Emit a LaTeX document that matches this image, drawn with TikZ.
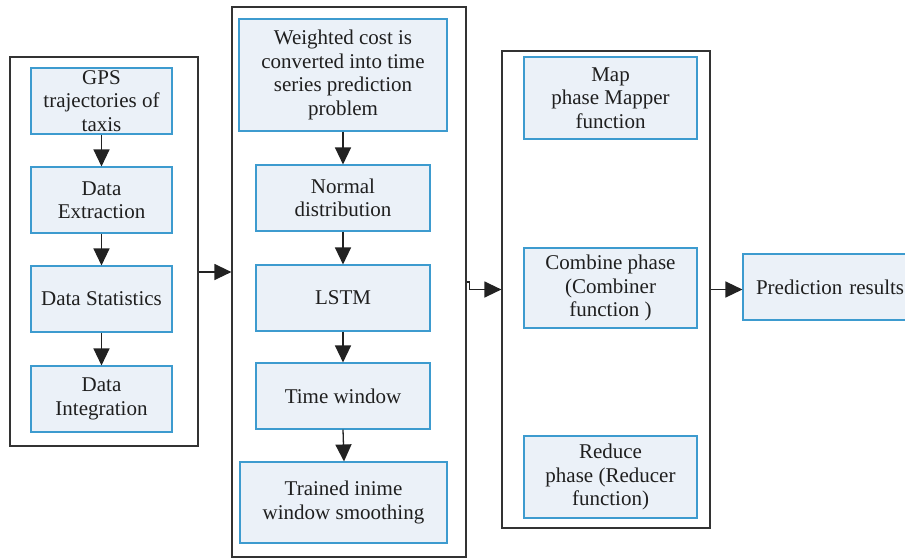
\documentclass[tikz,border=0pt]{standalone}
\usepackage{fontspec}
\setmainfont{Liberation Serif}
\usetikzlibrary{arrows.meta}
\definecolor{boxblue}{HTML}{3D9BCF}
\definecolor{boxfill}{HTML}{EBF1F8}
\definecolor{outline}{HTML}{333333}
\definecolor{arrowc}{HTML}{222222}
\tikzset{
  blk/.style={draw=boxblue, fill=boxfill, line width=1.1pt, align=center, inner sep=0pt,
    font=\fontsize{21}{23.5}\selectfont, text=black!88},
  outerbox/.style={draw=outline, line width=1.2pt, inner sep=0pt},
  conn/.style={draw=arrowc, line width=1.3pt, -{Triangle[length=17pt,width=16pt]}},
}
\begin{document}
\begin{tikzpicture}[x=1pt,y=-1pt]
\useasboundingbox (0,0) rectangle (905,558);
\clip (0,0) rectangle (905,558);
% outer boxes
\node[outerbox, minimum width=188pt, minimum height=389pt] (outer1) at (104,251.5) {};
\node[outerbox, minimum width=234pt, minimum height=550pt] (outer2) at (349,282) {};
\node[outerbox, minimum width=208pt, minimum height=477pt] (outer3) at (606,289.5) {};
% column 1
\node[blk, minimum width=141pt, minimum height=66pt] (gps) at (101.5,101) {GPS\\trajectories of\\taxis};
\node[blk, minimum width=141pt, minimum height=66pt] (ext) at (101.5,200) {Data\\Extraction};
\node[blk, minimum width=141pt, minimum height=66pt] (stat) at (101.5,299) {Data Statistics};
\node[blk, minimum width=141pt, minimum height=66pt] (integ) at (101.5,399) {Data\\Integration};
% column 2
\node[blk, minimum width=208pt, minimum height=112pt] (wc) at (343,75) {Weighted cost is\\converted into time\\series prediction\\problem};
\node[blk, minimum width=174pt, minimum height=66pt] (norm) at (343,198) {Normal\\distribution};
\node[blk, minimum width=174pt, minimum height=66pt] (lstm) at (343,298) {LSTM};
\node[blk, minimum width=174pt, minimum height=66pt] (tw) at (343,396) {Time window};
\node[blk, minimum width=207pt, minimum height=81pt] (tr) at (343.5,502.5) {Trained inime\\window smoothing};
% column 3
\node[blk, minimum width=173pt, minimum height=82pt] (map) at (610.5,98) {Map\\phase Mapper\\function};
\node[blk, minimum width=173pt, minimum height=80pt] (comb) at (610.5,288) {Combine phase\\(Combiner\\function )};
\node[blk, minimum width=173pt, minimum height=82pt] (red) at (610.5,477) {Reduce\\phase (Reducer\\function)};
% result
\node[blk, minimum width=222pt, minimum height=66pt, inner xsep=13pt, text width=196pt, align=left] (pred) at (854,287) {Prediction results};
% connectors column 1
\draw[conn] (gps) -- (ext);
\draw[conn] (ext) -- (stat);
\draw[conn] (stat) -- (integ);
% connectors column 2
\draw[conn] (wc) -- (norm);
\draw[conn] (norm) -- (lstm);
\draw[conn] (lstm) -- (tw);
\draw[conn] (tw.south) ++(0,0) -- (tr.north -| 344,0);
% between columns
\coordinate (a1) at (198,272);
\draw[conn] (outer1.east |- a1) -- (outer2.west |- a1);
\draw[conn] (outer2.east) -- ++(3,0) |- (outer3.west);
\draw[conn] (outer3.east) -- (pred.west |- outer3.east);
\end{tikzpicture}
\end{document}
